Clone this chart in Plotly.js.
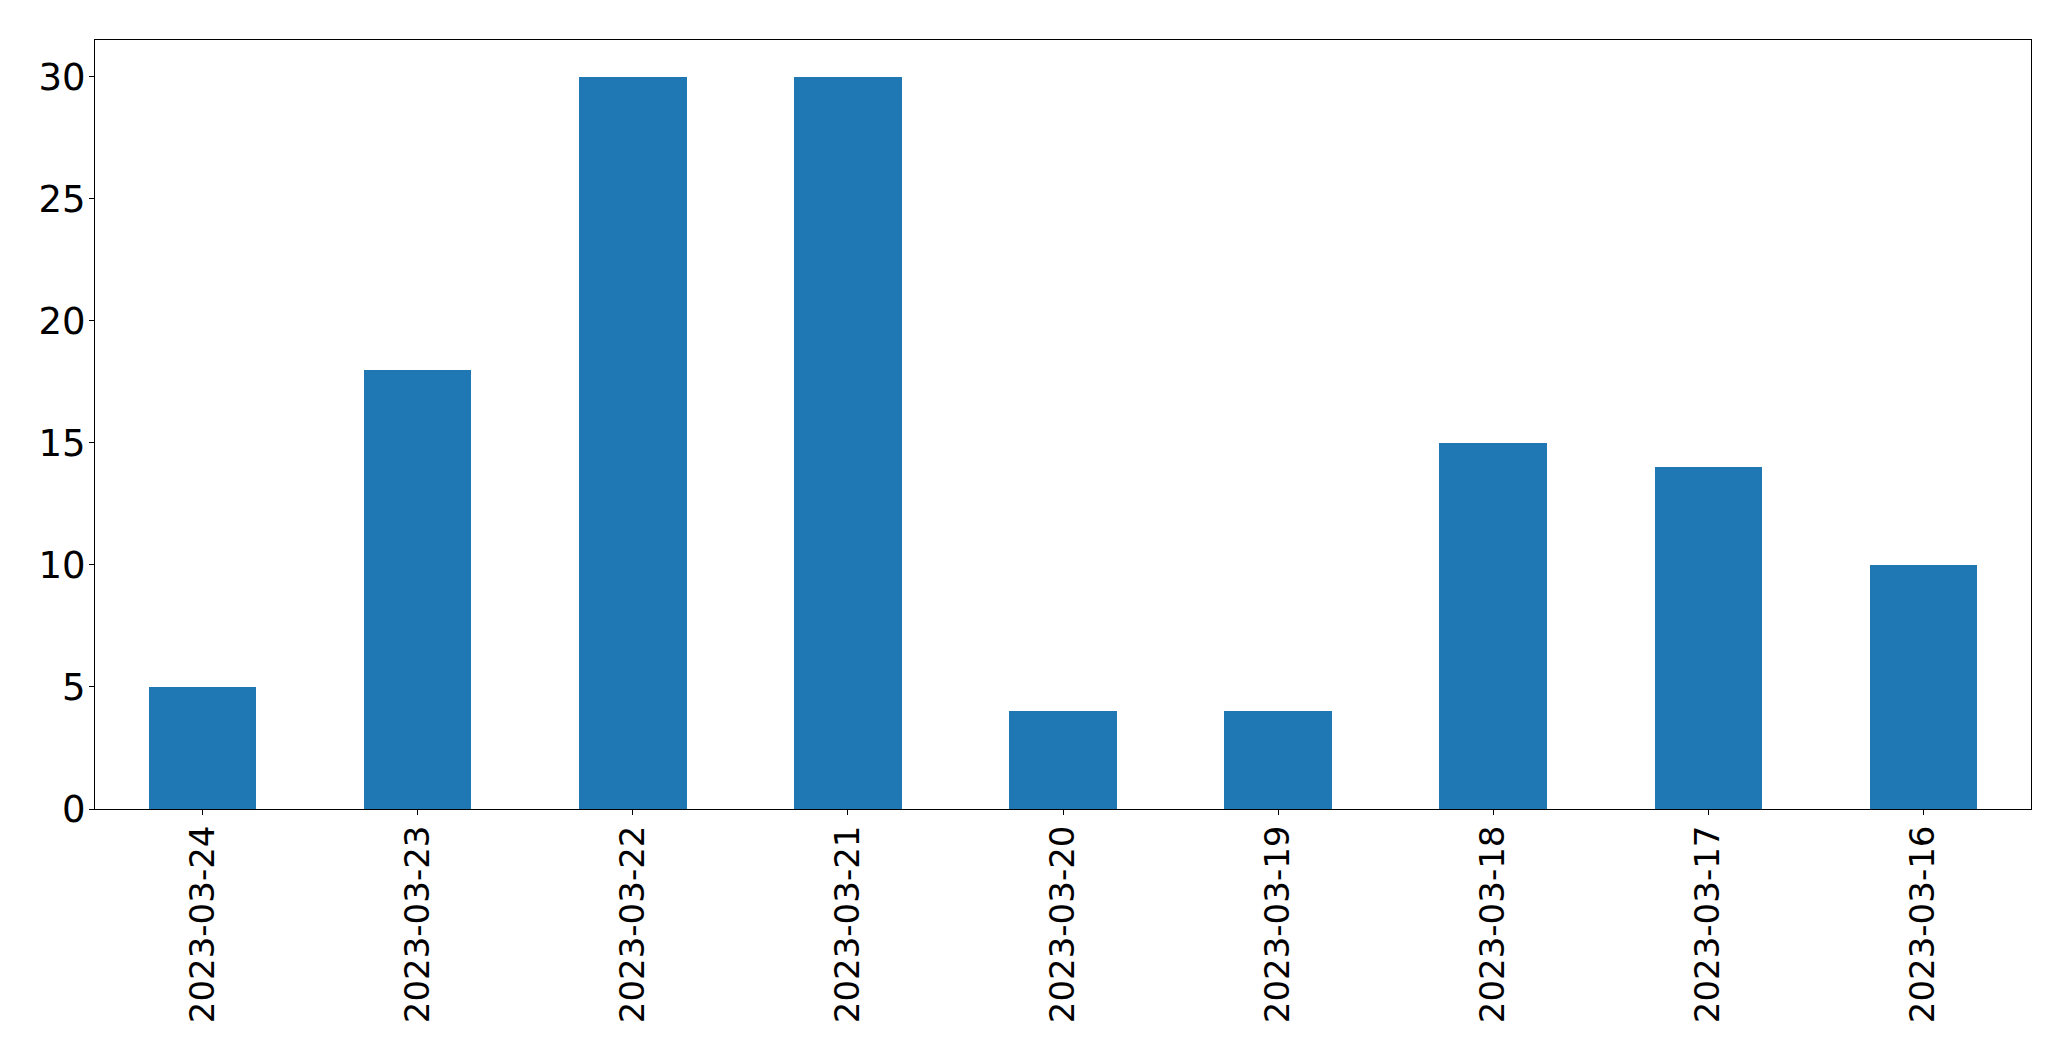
<!DOCTYPE html>
<html>
<head>
<meta charset="utf-8">
<script src="https://cdn.plot.ly/plotly-3.0.1.min.js"></script>
<style>
  html, body { margin: 0; padding: 0; background: #fff; }
  #chart { width: 2071px; height: 1061px; }
</style>
</head>
<body>
<div id="chart"></div>
<script>
const dates = ["2023-03-24", "2023-03-23", "2023-03-22", "2023-03-21", "2023-03-20",
               "2023-03-19", "2023-03-18", "2023-03-17", "2023-03-16"];
const counts = [5, 18, 30, 30, 4, 4, 15, 14, 10];
const yTicks = [0, 5, 10, 15, 20, 25, 30];

const trace = {
  type: "bar",
  x: dates,
  y: counts,
  width: 0.5,
  marker: { color: "#1f77b4", line: { width: 0 } },
  hoverinfo: "x+y"
};

const layout = {
  width: 2071,
  height: 1061,
  paper_bgcolor: "#ffffff",
  plot_bgcolor: "#ffffff",
  margin: { l: 94.5, r: 40, t: 39.5, b: 252 },
  showlegend: false,
  font: { family: "DejaVu Sans", size: 34, color: "#000000" },
  xaxis: {
    type: "category",
    range: [-0.5, 8.5],
    tickangle: -90,
    ticks: "outside",
    ticklen: 5,
    tickwidth: 1,
    tickcolor: "#000",
    showline: true,
    linecolor: "#000",
    linewidth: 1,
    mirror: true,
    showgrid: false,
    zeroline: false,
    ticklabelstandoff: -3,
    tickfont: { family: "DejaVu Sans", size: 34, color: "#000" }
  },
  yaxis: {
    range: [0, 31.5],
    tickvals: yTicks,
    ticktext: yTicks.map(String),
    ticks: "outside",
    ticklen: 5,
    tickwidth: 1,
    tickcolor: "#000",
    showline: true,
    linecolor: "#000",
    linewidth: 1,
    mirror: true,
    showgrid: false,
    zeroline: false,
    ticklabelstandoff: -4,
    tickfont: { family: "DejaVu Sans", size: 37, color: "#000" }
  },
  bargap: 0
};

Plotly.newPlot("chart", [trace], layout, { displayModeBar: false, staticPlot: true });
</script>
</body>
</html>
